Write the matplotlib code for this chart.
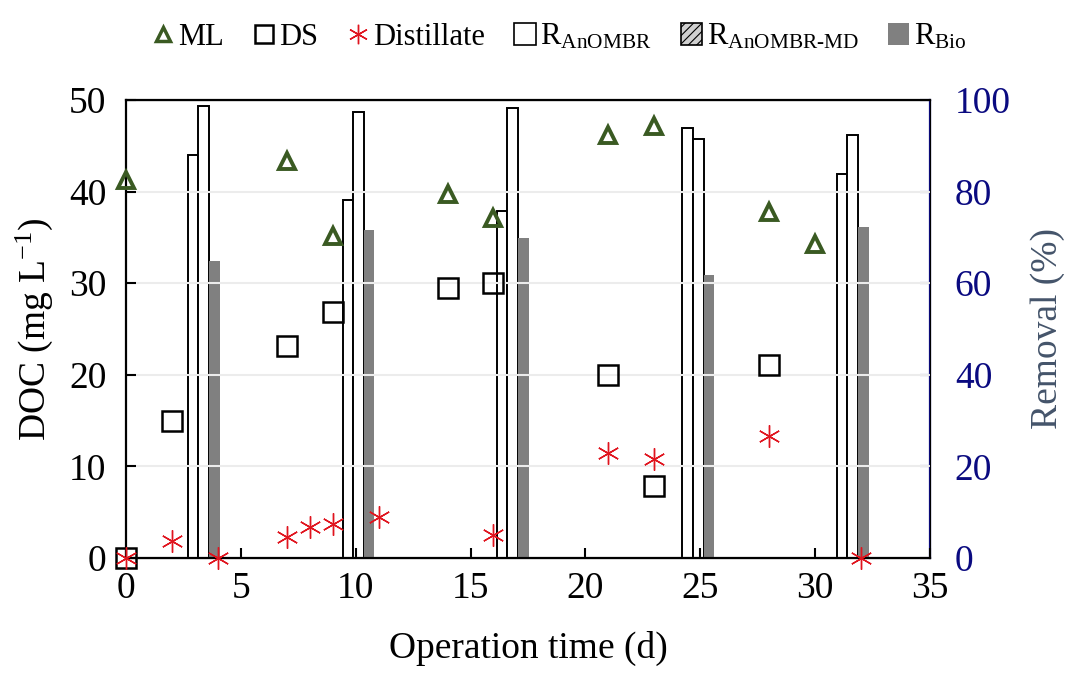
import matplotlib
matplotlib.use("Agg")
import matplotlib.pyplot as plt
from matplotlib.lines import Line2D
from matplotlib.patches import Patch

plt.rcParams['font.family'] = ['Liberation Serif', 'DejaVu Serif']
plt.rcParams['mathtext.fontset'] = 'custom'
plt.rcParams['mathtext.rm'] = 'Liberation Serif'
plt.rcParams['mathtext.it'] = 'Liberation Serif:italic'
plt.rcParams['hatch.linewidth'] = 0.8

# DOC concentrations (mg/L)
ml_days = [0, 7, 9, 14, 16, 21, 23, 28, 30]
ml_doc = [41.3, 43.3, 35.2, 39.7, 37.1, 46.2, 47.2, 37.8, 34.3]
ds_days = [0, 2, 7, 9, 14, 16, 21, 23, 28]
ds_doc = [0, 15.0, 23.1, 26.9, 29.5, 30.0, 20.0, 7.9, 21.1]
dist_days = [0, 2, 4, 7, 8, 9, 11, 16, 21, 23, 28, 32]
dist_doc = [0, 1.9, 0, 2.3, 3.4, 3.7, 4.5, 2.5, 11.5, 10.8, 13.3, 0]

# removal (%)
bar_days = [3.38, 10.12, 16.84, 24.92, 31.64]
r_anombr = [88.0, 78.2, 75.8, 93.8, 83.9]
r_anombr_md = [98.8, 97.4, 98.2, 91.5, 92.4]
r_bio = [64.9, 71.6, 69.9, 61.8, 72.2]

green = '#3a5a22'
red = '#e0141e'
navy = '#0a0a80'
slate = '#44546a'
w = 0.46
fs = 27

fig = plt.figure(figsize=(10.7, 6.73), dpi=100)
ax = fig.add_axes([0.1178, 0.171, 0.7512, 0.6804])
ax2 = ax.twinx()

ax2.bar([d - w for d in bar_days], r_anombr, w, color='white', edgecolor='black', linewidth=1.4)
ax2.bar(bar_days, r_anombr_md, w, color='white', edgecolor='black', linewidth=1.4)
ax2.bar([d + w for d in bar_days], r_bio, w, color='#808080', edgecolor='none')

ax.plot(ml_days, ml_doc, ls='none', marker='^', ms=12, mfc='none', mec=green, mew=2.8,
        zorder=5, clip_on=False)
ax.plot(ds_days, ds_doc, ls='none', marker='s', ms=14, mfc='none', mec='black', mew=1.8,
        zorder=5, clip_on=False)
ax.plot(dist_days, dist_doc, ls='none', marker=(6, 2, 0), ms=16, mec=red, mew=1.0,
        zorder=6, clip_on=False)

ax.set_zorder(ax2.get_zorder() + 1)
ax.patch.set_visible(False)

ax.set_xlim(0, 35)
ax.set_ylim(0, 50)
ax2.set_ylim(0, 100)
ax.set_xticks(range(0, 36, 5))
ax.set_yticks(range(0, 51, 10))
ax2.set_yticks(range(0, 101, 20))
ax.grid(axis='y', color='#ececec', lw=1.5)
ax.set_axisbelow(True)

ax.tick_params(axis='both', direction='in', length=7, width=1.5, labelsize=fs)
ax.tick_params(axis='x', pad=10)
ax.tick_params(axis='y', pad=14)
ax2.tick_params(axis='y', direction='in', length=7, width=1.5, labelsize=fs, colors=navy, pad=18)
for s in ['left', 'bottom', 'top']:
    ax.spines[s].set_linewidth(1.6)
ax2.spines['right'].set_color(navy)
ax2.spines['right'].set_linewidth(1.6)
ax2.spines['left'].set_visible(False)

ax.set_xlabel('Operation time (d)', fontsize=fs, labelpad=18)
ax.set_ylabel('DOC (mg L$^{-1}$)', fontsize=fs, labelpad=10)
ax2.set_ylabel('Removal (%)', fontsize=fs, color=slate, labelpad=14)

handles = [
    Line2D([], [], ls='none', marker='^', ms=10, mfc='none', mec=green, mew=2.5),
    Line2D([], [], ls='none', marker='s', ms=13, mfc='none', mec='black', mew=1.8),
    Line2D([], [], ls='none', marker=(6, 2, 0), ms=14, mec=red, mew=1.0),
    Patch(facecolor='white', edgecolor='black', lw=1.2),
    Patch(facecolor='#d0d0d0', edgecolor='black', lw=1.2, hatch='////'),
    Patch(facecolor='#808080', edgecolor='none'),
]
labels = ['ML', 'DS', 'Distillate', r'R$_{\mathrm{AnOMBR}}$',
          r'R$_{\mathrm{AnOMBR\text{-}MD}}$', r'R$_{\mathrm{Bio}}$']
fig.legend(handles, labels, loc='center', bbox_to_anchor=(0.523, 0.945), ncol=6,
           frameon=False, fontsize=22, handlelength=0.7, handletextpad=0.15,
           columnspacing=0.95, handleheight=0.7)

fig.savefig('out.png', dpi=100)
